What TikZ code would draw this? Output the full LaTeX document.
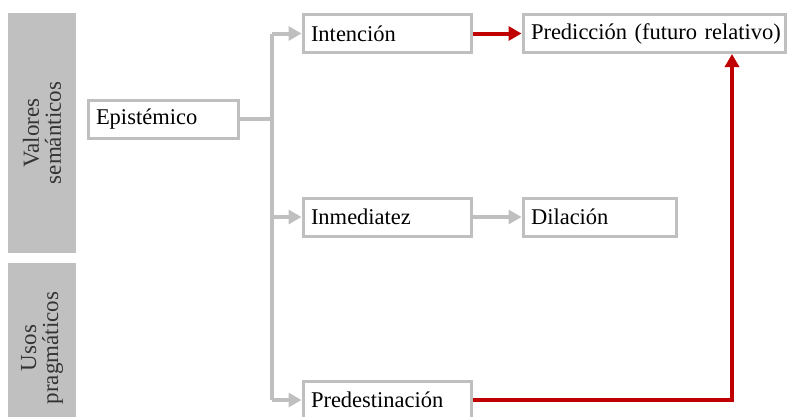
\documentclass[tikz,border=0pt]{standalone}
\usepackage{fontspec}
\setmainfont{Liberation Serif}
\usetikzlibrary{arrows.meta}
\definecolor{boxgray}{RGB}{191,191,191}
\definecolor{bargray}{RGB}{192,192,192}
\definecolor{darkred}{RGB}{192,0,0}
\tikzset{
  caja/.style={draw=boxgray, line width=3pt, fill=white, minimum height=38pt,
    inner xsep=8pt, inner ysep=0pt, text width=#1, align=left,
    font=\fontsize{22.5}{25}\selectfont},
  franja/.style={fill=bargray, rotate=90, minimum height=68pt, align=center,
    text=black!80, font=\fontsize{23}{22}\selectfont},
  flecha/.style={draw=boxgray, line width=4pt, -{Triangle[length=13pt,width=14pt]}},
  roja/.style={draw=darkred, line width=4pt, -{Triangle[length=13pt,width=14pt]}}
}
\begin{document}
\begin{tikzpicture}[x=1pt,y=-1pt]
      \useasboundingbox (0,0) rectangle (787,416);
      \clip (0,0) rectangle (787,416);
      \node[franja, minimum width=240pt] (sem) at (42,133) {Valores\\semánticos};
      \node[franja, minimum width=170pt] (prag) at (42,348) {Usos\\pragmáticos};
      \draw
        (163,119) node[caja=134pt] (epis){Epistémico}
        (387,33.5) node[caja=152pt] (inten){Intención}
        (654,33.5) node[caja=246pt] (pred){\mbox{Predicción (futuro relativo)}}
        (387,217) node[caja=152pt] (inme){Inmediatez}
        (599.5,217) node[caja=137pt] (dila){Dilación}
        (387,400) node[caja=152pt] (dest){Predestinación};
      \coordinate (top) at (272,33.5);
      \coordinate (bot) at (272,400);
      \coordinate (codo) at (732,400);
      \begin{scope}[line width=4pt, draw=boxgray]
        \draw (epis.east) -- (epis.east -| top);
        \draw (top) -- (bot);
        \draw[flecha] (top) -- (inten.west);
        \draw[flecha] (inme.west -| top) -- (inme.west);
        \draw[flecha] (bot) -- (dest.west);
        \draw[flecha] (inme.east) -- (dila.west);
      \end{scope}
      \begin{scope}
        \draw[roja] (inten.east) -- (pred.west);
        \draw[roja] (dest.east) -- (codo) -- (pred.south -| codo);
      \end{scope}
    \end{tikzpicture}
\end{document}
